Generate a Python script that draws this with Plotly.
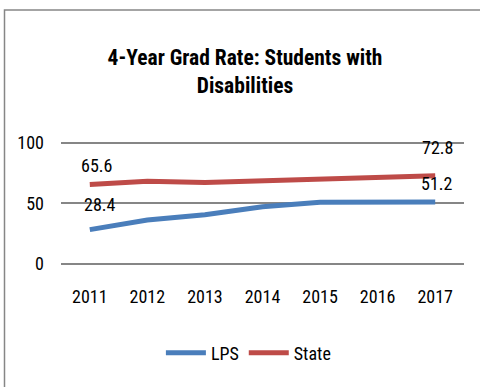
import plotly.graph_objects as go

years = ["2011", "2012", "2013", "2014", "2015", "2016", "2017"]
lps = [28.4, 36.4, 40.6, 47.2, 51.0, 50.7, 51.2]
state = [65.6, 68.3, 67.4, 68.8, 69.6, 71.5, 72.8]
y_ticks = [0, 50, 100]

FONT = "Liberation Sans Narrow, Roboto Condensed, Arial Narrow, sans-serif"

fig = go.Figure()
fig.add_trace(go.Scatter(
    x=years, y=lps, name="LPS", mode="lines",
    line=dict(color="#4A7EBB", width=5), cliponaxis=False))
fig.add_trace(go.Scatter(
    x=years, y=state, name="State", mode="lines",
    line=dict(color="#BE4B48", width=5), cliponaxis=False))

# data labels on first and last points (offsets in pixels)
label_specs = [
    (0, lps, 10, 25),
    (len(years) - 1, lps, 2, 19),
    (0, state, 7, 19),
    (len(years) - 1, state, 2, 28),
]
annotations = []
for idx, series, dx, dy in label_specs:
    annotations.append(dict(
        x=idx, y=series[idx], xref="x", yref="y",
        text=f"{series[idx]:.1f}", showarrow=False,
        xanchor="center", yanchor="middle",
        xshift=dx, yshift=dy,
        font=dict(size=18, family=FONT, color="#000000")))

fig.update_layout(
    width=480, height=387,
    margin=dict(l=61, r=16, t=141, b=123, autoexpand=False),
    paper_bgcolor="white", plot_bgcolor="white",
    font=dict(family=FONT, size=18, color="#000000"),
    title=dict(text="<b>4-Year Grad Rate: Students with<br>Disabilities</b>",
               x=245 / 480, xanchor="center", y=1 - 65 / 387, yanchor="top",
               font=dict(size=21.5, family=FONT, color="#000000")),
    xaxis=dict(type="category", range=[-0.5, 6.5], showgrid=False,
               showline=False, ticks="", tickfont=dict(size=18),
               ticklabelstandoff=20),
    yaxis=dict(range=[0, 101.6], tickvals=y_ticks, showgrid=True,
               gridcolor="#868686", gridwidth=1.5, zeroline=True,
               zerolinecolor="#868686", zerolinewidth=1.5,
               showline=False, ticks="", ticklabelstandoff=16,
               tickfont=dict(size=18)),
    legend=dict(orientation="h", x=0.465, xanchor="center", y=-0.723,
                yanchor="middle", font=dict(size=18), itemwidth=40,
                traceorder="normal"),
    showlegend=True,
    annotations=annotations,
)

fig.add_shape(type="rect", xref="paper", yref="paper",
              x0=(4.5 - 61) / 403, x1=1.2, y0=-1.5, y1=(264 - 10) / 123,
              line=dict(color="#868686", width=1.5), fillcolor="rgba(0,0,0,0)",
              layer="below")

fig.write_html("out.html", config={"displayModeBar": False},
               post_script="document.body.style.margin='0';document.body.style.padding='0';")
